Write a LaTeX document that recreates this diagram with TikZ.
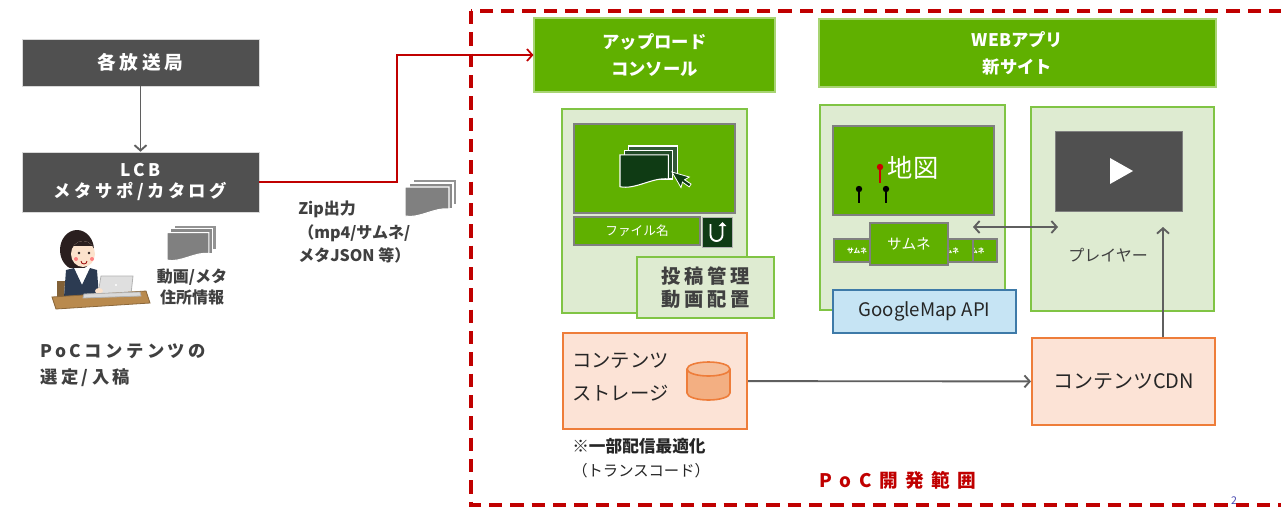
\documentclass[tikz,border=0pt]{standalone}
\usepackage{fontspec}
\setmainfont{Noto Sans CJK JP}
\newfontfamily\widefont[LetterSpace=20]{Noto Sans CJK JP}
\newfontfamily\widerfont[LetterSpace=40]{Noto Sans CJK JP}
\usepackage{xcolor}
\usetikzlibrary{arrows.meta}

\definecolor{slate}{HTML}{505050}
\definecolor{ink}{HTML}{404040}
\definecolor{wire}{HTML}{5F5F5F}
\definecolor{leaf}{HTML}{60B000}
\definecolor{leafpale}{HTML}{DEEBD1}
\definecolor{leafedge}{HTML}{80C444}
\definecolor{leafdark}{HTML}{0F3B14}
\definecolor{sky}{HTML}{C6E4F4}
\definecolor{skyedge}{HTML}{3E7AA8}
\definecolor{peach}{HTML}{FCE3D6}
\definecolor{peachedge}{HTML}{EE7D3A}
\definecolor{peachdeep}{HTML}{F3AF82}
\definecolor{pocred}{HTML}{C00000}
\definecolor{hair}{HTML}{2A1F1F}
\definecolor{skin}{HTML}{FCE2CC}
\definecolor{vest}{HTML}{2C3B52}
\definecolor{desk}{HTML}{B98A4E}

\def\pxu{0.75pt}
\newcommand{\sz}[2]{\fontsize{#1}{#2}\selectfont}
% three sheets on top of each other: x, y, scale, colour
\newcommand{\sheetpile}[4]{%
  \begin{scope}[shift={(#1,#2)}, scale=#3, draw=white, line width=0.8pt]
    \filldraw[fill=#4!85!white] (8,0) rectangle (52,26);
    \filldraw[fill=#4!92!white] (4,4) rectangle (48,30);
    \filldraw[fill=#4] (0,8) -- (44,8) -- (44,30) .. controls (30,28) and (14,40) .. (0,37) -- cycle;
  \end{scope}
}

\begin{document}
\begin{tikzpicture}[x=0.75pt, y=-0.75pt, >={Straight Barb[length=4pt,width=9pt]},
  wh/.style 2 args={minimum width=#1*\pxu, minimum height=#2*\pxu},
  darkbox/.style={fill=slate, draw=gray!30, text=white, inner sep=0pt, align=center},
  headbox/.style={fill=leaf, draw=leaf!55, line width=0.8pt, text=white, inner sep=0pt, align=center, font=\bfseries\sz{13}{20}},
  panel/.style={fill=leafpale, draw=leafedge, line width=1.5pt, inner sep=0pt, align=center},
  screen/.style={fill=leaf, draw=gray, line width=1pt, inner sep=0pt},
  thumb/.style={fill=leaf, draw=gray, line width=0.8pt, inner sep=0pt, text=white},
  peachbox/.style={fill=peach, draw=peachedge, line width=1.5pt, inner sep=0pt},
  note/.style={text=ink, font=\bfseries, align=left, inner sep=0pt},
  link/.style={wire, line width=1.4pt, ->},
  feed/.style={pocred, line width=1.3pt, ->}]
\fill[white] (0,0) rectangle (1281,508);
\useasboundingbox (0,0) rectangle (1281,508);

% left side
\node[darkbox, wh={237}{47}, font=\widefont\bfseries\sz{14}{16}] (station) at (140.5,62.5) {各放送局};
\node[darkbox, wh={237}{60}, font=\widefont\bfseries\sz{13}{16}] (lcb) at (140.5,182) {LCB\\メタサポ/カタログ};
\draw[link] (station) -- (lcb);

\sheetpile{405}{179}{1}{gray}
\node[note, anchor=west, font=\bfseries\sz{12}{17.5}] (zip) at (298,232) {Zip出力\\（mp4/サムネ/\\メタJSON 等）};

% person at the laptop
\fill[desk!70!black] (57,281) rectangle (65,299);
\fill[hair] (77,250) ellipse (17 and 20);
\fill[white] (66,268) -- (97,268) -- (100,297) -- (64,297) -- cycle;
\fill[vest] (66,270) -- (74,268) -- (82,285) -- (90,268) -- (97,270) -- (99,297) -- (64,297) -- cycle;
\fill[skin] (83,254) ellipse (12 and 13);
\begin{scope}
  \clip (83,254) ellipse (12 and 13);
  \fill[hair] (68,236) rectangle (100,246);
\end{scope}
\fill[hair] (79,253) circle[radius=1.4] (89,253) circle[radius=1.4];
\fill[red!50!white] (76,259) circle[radius=2] (92,259) circle[radius=2];
\draw[red!60!black, line width=0.6pt] (81,261) arc (180:0:3);
\filldraw[fill=gray!25, draw=gray!60, line width=0.6pt] (101,276) -- (133,276) -- (131,294) -- (98,294) -- cycle;
\fill[white] (116,285) circle[radius=1.2];
\fill[skin] (99,291) ellipse (4 and 3);
\filldraw[fill=desk, draw=desk!75!black, line width=0.6pt] (52,297) -- (146,291) -- (150,303) -- (56,309) -- cycle;
\filldraw[fill=gray!30, draw=gray!60, line width=0.6pt] (84,294) -- (140,292) -- (141,296) -- (83,298) -- cycle;

\sheetpile{167}{225}{0.95}{gray}
\node[note, align=center, font=\bfseries\sz{12}{16}] (mediainfo) at (192,287) {動画/メタ\\住所情報};
\node[note, anchor=west, font=\widefont\bfseries\sz{13}{19.5}] (pick) at (40,365) {PoCコンテンツの\\選定/入稿};

% headers
\node[headbox, wh={241}{74}] (uphead) at (654.5,55) {アップロード\\コンソール};
\node[headbox, wh={397}{68}] (webhead) at (1017.5,53) {WEBアプリ\\新サイト};
\draw[feed] (lcb.east) -- ++(138,0) |- (uphead.west);

% upload console
\node[panel, wh={185}{204}] (uppanel) at (654.5,211) {};
\node[screen, wh={161}{89}] (upscreen) at (654.5,168.5) {};
\sheetpile{620}{146}{1.1}{leafdark}
\filldraw[fill=leafdark, draw=white, line width=0.6pt, rotate around={30:(672,172)}]
  (672,172) -- ++(0,18) -- ++(4,-4) -- ++(3.5,7.5) -- ++(3,-1.5) -- ++(-3.5,-7) -- ++(5.5,0) -- cycle;
\node[thumb, wh={126}{28}, font=\sz{9.5}{11}] (fname) at (637,231) {ファイル名};
\node[fill=leafdark, draw=gray!60, wh={30}{30}, inner sep=0pt] (upbtn) at (717,232) {};
\draw[white, line width=1.4pt, -{Triangle[length=3pt,width=5.5pt]}] (710.5,224) -- (710.5,235) arc (180:0:6) -- (722.5,222);
\node[panel, wh={137}{61}, text=ink, font=\widefont\bfseries\sz{14.5}{17.5}] (manage) at (705.5,287.5) {投稿管理\\動画配置};

% map page
\node[panel, wh={185}{205}] (mappanel) at (912.5,207.5) {};
\node[screen, wh={161}{89}] (mapscreen) at (913.5,170.5) {};
\node[text=white, font=\sz{19}{22}, inner sep=0pt] (maptitle) at (913,168) {地図};
\draw[red!80!black, line width=1pt] (880,167) -- (880,183);
\fill[red!80!black] (880,167) circle[radius=3.2];
\draw[black, line width=1.5pt] (859,189) -- (859,203) (886,189) -- (886,203);
\fill[black] (859,189) circle[radius=3.2] (886,189) circle[radius=3.2];
\node[thumb, wh={45}{23}, font=\bfseries\sz{5}{6}] (thumbE) at (974.5,250.5) {サムネ};
\node[thumb, wh={48}{23}, font=\bfseries\sz{5}{6}] (thumbD) at (949,250.5) {サムネ};
\node[thumb, wh={46}{23}, font=\bfseries\sz{5}{6}] (thumbA) at (857,250.5) {サムネ};
\node[thumb, wh={78}{42}, font=\sz{11}{13}] (thumbmain) at (909,244) {サムネ};

% player page
\node[panel, wh={183}{204}] (playpanel) at (1122.5,209) {};
\node[fill=slate, draw=gray, wh={127}{80}, inner sep=0pt] (playscreen) at (1118.5,171) {};
\fill[white] (1110,158) -- (1133,171) -- (1110,184) -- cycle;
\node[text=ink, font=\sz{12}{14}, inner sep=0pt] (player) at (1108,255) {プレイヤー};
\coordinate (thumbtip) at (973,227);
\coordinate (playtip) at (1058,227);
\draw[link, <->] (thumbtip) -- (playtip);

\node[fill=sky, draw=skyedge, line width=1.5pt, wh={183}{43}, inner sep=0pt, font=\sz{14}{16}, text=black!85] (gmap) at (924.5,311.5) {GoogleMap API};

% storage and CDN
\node[peachbox, wh={184}{96}] (storage) at (655,381) {};
\node[anchor=west, align=left, font=\sz{14.5}{25}, inner sep=0pt, text=black!85] (storagetext) at (572,377) {コンテンツ\\ストレージ};
\filldraw[fill=peachdeep, draw=peachedge, line width=1.2pt] (687,369) -- (687,393) arc (180:0:21.5 and 7) -- (730,369);
\filldraw[fill=peachdeep!80!white, draw=peachedge, line width=1.2pt] (708.5,369) ellipse (21.5 and 7);
\node[peachbox, wh={183}{87}, font=\sz{15}{17}, text=black!85] (cdn) at (1123.5,381.5) {コンテンツCDN};
\coordinate (playup) at (1163,227);
\draw[link] (storage) -- (cdn);
\draw[link] (cdn.north -| playup) -- (playup);

\node[anchor=north west, align=left, inner sep=0pt, text=black!85, font=\sz{12.5}{18}] (transcode) at (572,438) {\textbf{※一部配信最適化}\\{\sz{11.5}{18}（トランスコード）}};
\node[text=pocred, font=\widerfont\bfseries\sz{14}{16}, inner sep=0pt] (scopelabel) at (898,480) {PoC開発範囲};

\node[text=gray!60!blue, font=\sz{8}{9}, inner sep=0pt] (pageno) at (1234,501) {2};
\draw[pocred, line width=2.6pt, dash pattern=on 10pt off 6pt] (471,11) rectangle (1300,505);
\end{tikzpicture}
\end{document}
